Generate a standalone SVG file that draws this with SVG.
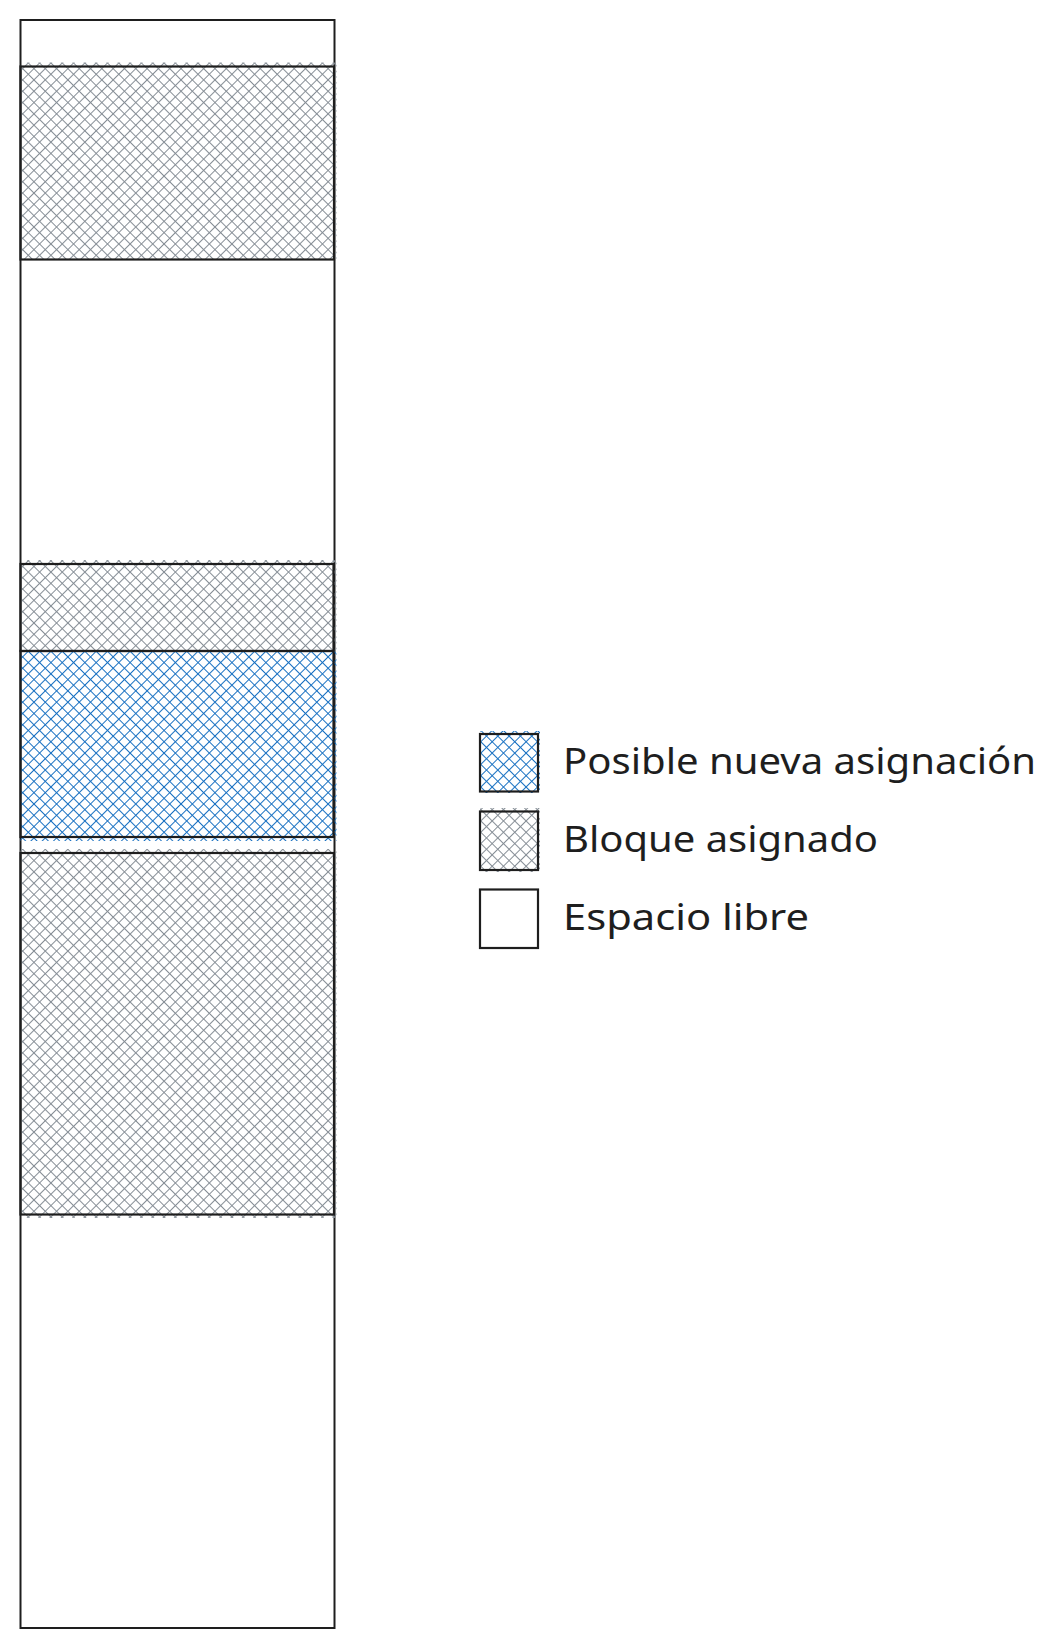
<svg xmlns="http://www.w3.org/2000/svg" width="1057" height="1648" viewBox="0 0 1057 1648">
  <defs>
    <pattern id="hatchGray" patternUnits="userSpaceOnUse" width="8" height="8" patternTransform="rotate(45)">
      <line x1="0" y1="0.5" x2="8" y2="0.5" stroke="#868e96" stroke-width="1"/>
      <line x1="0.5" y1="0" x2="0.5" y2="8" stroke="#868e96" stroke-width="1"/>
    </pattern>
    <pattern id="hatchBlue" patternUnits="userSpaceOnUse" width="8" height="8" patternTransform="rotate(45)">
      <line x1="0" y1="0.5" x2="8" y2="0.5" stroke="#1971c2" stroke-width="1"/>
      <line x1="0.5" y1="0" x2="0.5" y2="8" stroke="#1971c2" stroke-width="1"/>
    </pattern>
  </defs>
  <style>
    .frame { fill: #ffffff; stroke: #1e1e1e; stroke-width: 2; }
    .box { stroke: #1e1e1e; stroke-width: 2.2; }
    .gray { fill: url(#hatchGray); }
    .blue { fill: url(#hatchBlue); }
    .free { fill: #ffffff; }
    .label { font-family: "Noto Sans", "Liberation Sans", sans-serif; font-size: 36px; fill: #1e1e1e; }
  </style>
  <rect width="1057" height="1648" fill="#ffffff"/>

  <g id="memoria">
    <rect class="frame" x="20.5" y="20" width="314" height="1608"/>
  </g>
  <g id="bloque1">
    <rect class="gray" x="20.5" y="62.5" width="316" height="197"/>
    <rect class="box" fill="none" x="20.5" y="66.5" width="313.5" height="193"/>
  </g>
  <g id="bloque2">
    <rect class="gray" x="20.5" y="560" width="316" height="91"/>
    <rect class="box" fill="none" x="20.5" y="564" width="313" height="87"/>
  </g>
  <g id="nueva">
    <rect class="blue" x="20.5" y="651" width="316" height="190"/>
    <rect class="box" fill="none" x="20.5" y="651" width="313" height="186"/>
  </g>
  <g id="bloque3">
    <rect class="gray" x="20.5" y="849" width="316" height="369"/>
    <rect class="box" fill="none" x="20.5" y="853" width="313.5" height="361.5"/>
  </g>

  <g id="leyenda-nueva">
    <rect class="blue" x="480" y="731" width="60" height="62"/>
    <rect class="box" fill="none" x="480" y="734" width="58" height="57.5"/>
    <text class="label" x="563" y="774" textLength="473" lengthAdjust="spacingAndGlyphs">Posible nueva asignación</text>
  </g>
  <g id="leyenda-asignado">
    <rect class="gray" x="480" y="808" width="60" height="64"/>
    <rect class="box" fill="none" x="480" y="811.5" width="58" height="58.5"/>
    <text class="label" x="563" y="852" textLength="315" lengthAdjust="spacingAndGlyphs">Bloque asignado</text>
  </g>
  <g id="leyenda-libre">
    <rect class="box free" x="480" y="889.5" width="58" height="58.5"/>
    <text class="label" x="563" y="930" textLength="246" lengthAdjust="spacingAndGlyphs">Espacio libre</text>
  </g>
  <g id="connectors"></g>
</svg>
